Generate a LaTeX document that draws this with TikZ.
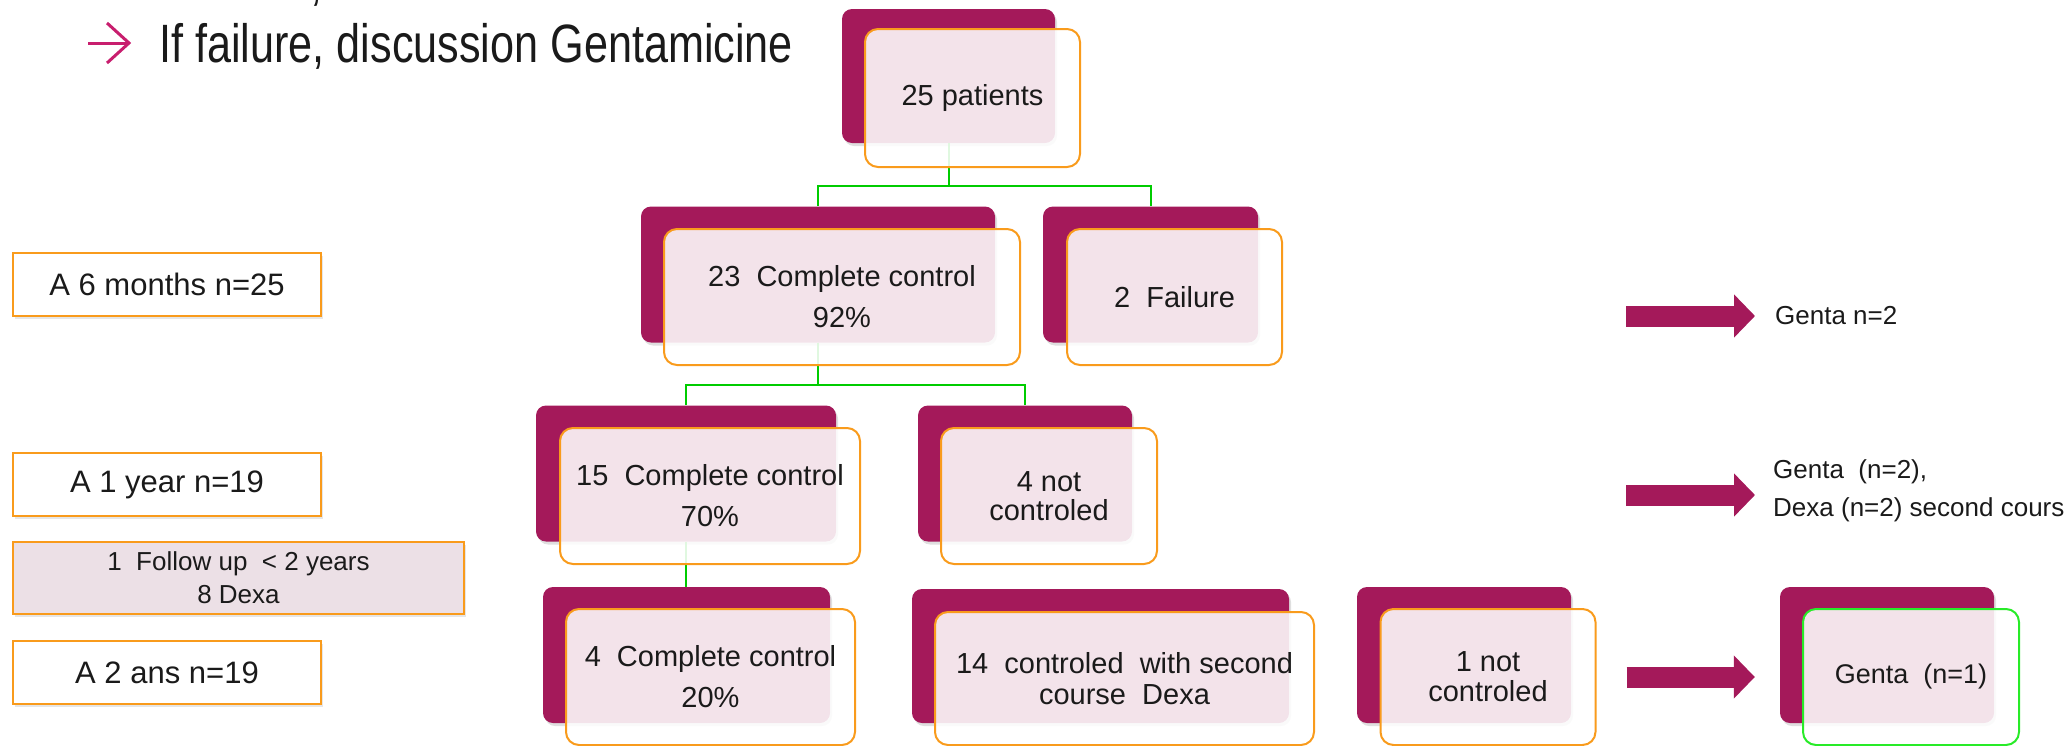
\documentclass[tikz,border=0pt]{standalone}
\usepackage{fontspec}
\setmainfont{Liberation Sans}
\newfontfamily\narrowfont{Liberation Sans}[FakeStretch=0.8]
\usepackage{tikz}
\usetikzlibrary{positioning,shadows,arrows.meta}
\definecolor{plum}{RGB}{164,25,90}
\definecolor{boxorange}{RGB}{249,155,28}
\definecolor{linkgreen}{RGB}{0,204,0}
\definecolor{brightgreen}{RGB}{40,235,40}
\definecolor{bulletpink}{RGB}{200,30,110}
\definecolor{mauve}{RGB}{236,224,230}
\definecolor{ink}{RGB}{26,26,26}

\begin{document}
\begin{tikzpicture}[x=1pt, y=-1pt,
    every node/.style={inner sep=0pt, text=ink},
    back/.style={rectangle, rounded corners=10pt, fill=plum, minimum height=136pt,
        drop shadow={shadow xshift=2pt, shadow yshift=-3pt, opacity=0.25}},
    front/.style={rectangle, rounded corners=13pt, draw=boxorange, line width=2pt,
        fill=white, fill opacity=0.88, text opacity=1, minimum height=136pt,
        align=center, font=\fontsize{29}{41}\selectfont},
    agebox/.style={rectangle, draw=boxorange, line width=2pt, fill=white,
        minimum width=308pt, minimum height=63pt, font=\fontsize{31}{37}\selectfont,
        drop shadow={shadow xshift=2pt, shadow yshift=-3pt, opacity=0.2}},
    link/.style={linkgreen, line width=2pt},
    bullet/.style={bulletpink, line width=3pt},
    bigarrow/.style={plum, line width=21pt, -{Triangle[length=21pt, width=42pt]}}]

    \useasboundingbox (0,0) rectangle (2072,745);

    \node[font=\narrowfont\fontsize{54}{60}\selectfont, anchor=base] (prevline) at (316,-1) {,};
    \draw[bullet] (88,43) -- (128,43);
    \draw[bullet] (107,23) -- (129,43) -- (107,63);
    \node[font=\narrowfont\fontsize{54}{60}\selectfont, anchor=base west] (head) at (159,62) {If failure, discussion Gentamicine};

    \node[agebox] (a6m) at (167,284.5) {A 6 months n=25};
    \node[agebox, below=135pt of a6m] (a1y) {A 1 year n=19};
    \node[agebox, fill=mauve, minimum width=451pt, minimum height=72pt, align=center,
        font=\fontsize{26}{33}\selectfont, below=24pt of a1y.south west, anchor=north west] (fup)
        {1~~Follow up~~< 2 years\\8 Dexa};
    \node[agebox, below=25pt of fup.south west, anchor=north west] (a2y) {A 2 ans n=19};

    \node[back, minimum width=213pt, minimum height=134pt] (b25) at (948.5,76) {};
    \node[back, minimum width=354pt] (b23) at (818,274.5) {};
    \node[back, minimum width=215pt] (b2) at (1150.5,274.5) {};
    \node[back, minimum width=300pt] (b15) at (686,473.5) {};
    \node[back, minimum width=214pt] (b4n) at (1025,473.5) {};
    \node[back, minimum width=287pt] (b4c) at (686.5,655) {};
    \node[back, minimum width=377pt, minimum height=134pt] (b14) at (1100.5,656) {};
    \node[back, minimum width=214pt] (b1n) at (1464,655) {};
    \node[back, minimum width=214pt] (bg1) at (1887,655) {};

    \draw[link] (b25.south) -- ++(0,43) -| (b23.north);
    \draw[link] (b25.south) -- ++(0,43) -| (b2.north);
    \draw[link] (b23.south) -- ++(0,42) -| (b15.north);
    \draw[link] (b23.south) -- ++(0,42) -| (b4n.north);
    \draw[link] (b15.south) -- (b15.south |- b4c.north);

    \node[front, minimum width=215pt, minimum height=138pt] (f25) at ([shift={(24,22)}]b25.center) {25 patients};
    \node[front, minimum width=356pt] (f23) at ([shift={(24,22.5)}]b23.center) {23~~Complete control\\92\%};
    \node[front, minimum width=215pt] (f2) at ([shift={(24,22.5)}]b2.center) {2~~Failure};
    \node[front, minimum width=300pt] (f15) at ([shift={(24,22.5)}]b15.center) {15~~Complete control\\70\%};
    \node[front, minimum width=216pt, font=\fontsize{29}{29}\selectfont] (f4n) at ([shift={(24,22.5)}]b4n.center) {4 not\\controled};
    \node[front, minimum width=289pt] (f4c) at ([shift={(24,22)}]b4c.center) {4~~Complete control\\20\%};
    \node[front, minimum width=379pt, minimum height=133pt, font=\fontsize{29}{31}\selectfont] (f14) at ([shift={(24,22.5)}]b14.center) {14~~controled~~with second\\course~~Dexa};
    \node[front, minimum width=215pt, font=\fontsize{29}{30}\selectfont] (f1n) at ([shift={(24,22)}]b1n.center) {1 not\\controled};
    \node[front, draw=brightgreen, minimum width=216pt, font=\fontsize{27}{32}\selectfont] (fg1) at ([shift={(24,22)}]bg1.center) {Genta~~(n=1)};

    \node[anchor=west, font=\fontsize{26}{38}\selectfont] (g2) at (1775,316) {Genta n=2};
    \node[anchor=west, align=left, font=\fontsize{26}{38}\selectfont] (g2d) at (1773,491) {Genta~~(n=2),\\Dexa (n=2) second cours};
    \coordinate (s1) at (1626,316);
    \coordinate (s2) at (1626,495);

    \draw[bigarrow, shorten >=20pt] (s1) -- (s1 -| g2.west);
    \draw[bigarrow, shorten >=18pt] (s2) -- (s2 -| g2d.west);
    \draw[bigarrow, shorten <=30pt, shorten >=25pt] (f1n.east) -- (f1n.east -| bg1.west);
\end{tikzpicture}
\end{document}
